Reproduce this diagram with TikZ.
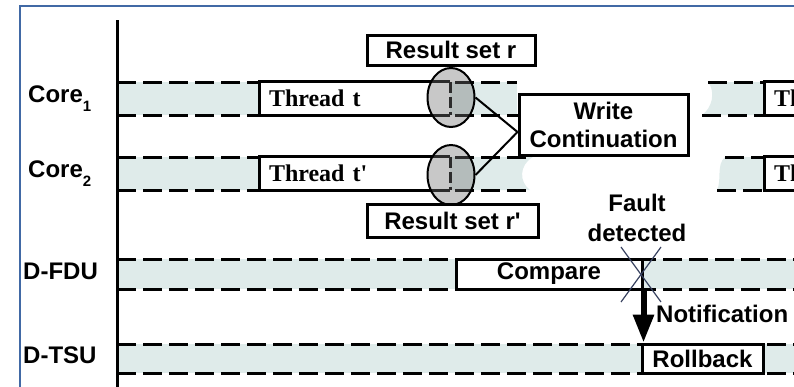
\documentclass[tikz,border=0pt]{standalone}
\usepackage{fontspec}
\setmainfont{Liberation Serif}
\setsansfont{Liberation Sans}
\usetikzlibrary{arrows.meta,shapes.geometric}

\definecolor{lanefill}{RGB}{223,235,234}
\definecolor{frameblue}{RGB}{65,105,165}
\definecolor{bubble}{RGB}{114,114,114}
\definecolor{crossink}{RGB}{55,65,95}

\tikzset{
  sans/.style={font=\sffamily\bfseries\fontsize{24}{28}\selectfont},
  serif/.style={font=\rmfamily\bfseries\fontsize{24}{28}\selectfont},
  lanedash/.style={line width=3pt, dash pattern=on 19pt off 7pt},
  boxline/.style={line width=3pt},
  edgedash/.style={line width=3pt, dash pattern=on 11pt off 4pt},
  labelbox/.style={sans, draw, fill=white, line width=3pt, inner sep=0pt, align=center},
  threadbox/.style={serif, fill=white, inner xsep=9pt, inner ysep=0pt,
    minimum height=33pt, text width=172pt, align=left},
  bubblenode/.style={ellipse, draw, line width=2pt, fill=bubble, fill opacity=0.39,
    inner sep=0pt, minimum width=47pt, minimum height=59pt},
  tag/.style={sans, inner sep=0pt, anchor=base west},
  link/.style={line width=2pt},
  crossline/.style={crossink, line width=1.2pt},
}

\begin{document}
\begin{tikzpicture}[x=1pt,y=-1pt]
\useasboundingbox (0,0) rectangle (794,386);
\clip (0,0) rectangle (794,386);

% lane backgrounds (the core lanes are broken in the middle)
\fill[lanefill] (117,82) rectangle (517,115);
\fill[lanefill] (708,82) .. controls (716,92) and (712,108) .. (702,115) -- (800,115) -- (800,82) -- cycle;
\fill[lanefill] (117,157) -- (533,157) .. controls (519,165) and (519,182) .. (530,190) -- (117,190) -- cycle;
\fill[lanefill] (725,157) .. controls (716,165) and (722,180) .. (717,190) -- (800,190) -- (800,157) -- cycle;
\fill[lanefill] (117,259) rectangle (800,289);
\fill[lanefill] (117,344) rectangle (800,373);

% dashed lane borders
\draw[lanedash] (117,82) -- (517,82);
\draw[lanedash] (117,115) -- (519,115);
\draw[lanedash] (708,82) -- (800,82);
\draw[lanedash] (702,115) -- (800,115);
\draw[lanedash] (117,157) -- (533,157);
\draw[lanedash] (117,190) -- (532,190);
\draw[lanedash] (725,157) -- (800,157);
\draw[lanedash] (717,190) -- (800,190);
\draw[lanedash] (117,259) -- (800,259);
\draw[lanedash] (117,289) -- (800,289);
\draw[lanedash] (117,344) -- (800,344);
\draw[lanedash] (117,373) -- (800,373);

% threads running on the two cores
\node[threadbox] (t1) at (355,98.5) {Thread t};
\node[threadbox] (t2) at (355,173.5) {Thread t\textquotesingle};
\node[threadbox] (t3) at (860,98.5) {Thread t};
\node[threadbox] (t4) at (860,173.5) {Thread t\textquotesingle};
\foreach \t in {t1,t2}{
  \draw[boxline] (\t.north east) -- (\t.north west) -- (\t.south west) -- (\t.south east);
  \draw[edgedash] (\t.north east) -- (\t.south east);
}
\foreach \t in {t3,t4}{
  \draw[boxline] (\t.north east) rectangle (\t.south west);
}

% result sets
\node[bubblenode] (e1) at (451,97.5) {};
\node[bubblenode, minimum height=60pt] (e2) at (451,175) {};
\node[labelbox, minimum width=168pt, minimum height=30pt] (r1) at (451,50) {Result set r};
\node[labelbox, minimum width=171pt, minimum height=33pt] (r2) at (452.5,220.5) {Result set r\textquotesingle};

% write continuation
\node[labelbox, minimum width=169pt, minimum height=61pt] (wc) at (603.5,124.5) {Write\\Continuation};
\draw[link] (e1.east) -- ([yshift=-7.5pt]wc.west);
\draw[link] (e2.east) -- ([yshift=-7.5pt]wc.west);

% fault detection and recovery
\node[labelbox, minimum width=186pt, minimum height=30pt] (cmp) at (549,274) {Compare};
\node[labelbox, minimum width=121pt, minimum height=29pt] (rb) at (702.5,358.5) {Rollback};
\draw[line width=6pt, -{Triangle[width=20pt,length=28pt]}] (cmp.south east) -- (cmp.south east |- rb.north);

\coordinate (fx) at (641,274.5);
\draw[crossline] ([shift={(-20pt,27.5pt)}]fx) -- ([shift={(20pt,-27.5pt)}]fx);
\draw[crossline] ([shift={(20pt,27.5pt)}]fx) -- ([shift={(-20pt,-27.5pt)}]fx);

\node[font=\sffamily\bfseries\fontsize{24}{30}\selectfont, align=center, inner sep=0pt] (fd) at (637,218) {Fault\\detected};
\node[sans, anchor=west, inner sep=0pt] (nt) at (656,314) {Notification};

% unit labels
\node[tag] (c1) at (28,102) {Core\raisebox{-9pt}{\fontsize{15}{15}\selectfont 1}};
\node[tag] (c2) at (28,177) {Core\raisebox{-9pt}{\fontsize{15}{15}\selectfont 2}};
\node[tag] (fdu) at (23,279) {D-FDU};
\node[tag] (tsu) at (23,363) {D-TSU};

% time axis
\coordinate (axtop) at (117,20);
\coordinate (axbot) at (117,392);
\draw[line width=3pt] (axtop) -- (axbot);

% frame
\draw[frameblue, line width=2pt] (20,392) -- (20,6) -- (800,6);
\end{tikzpicture}
\end{document}
